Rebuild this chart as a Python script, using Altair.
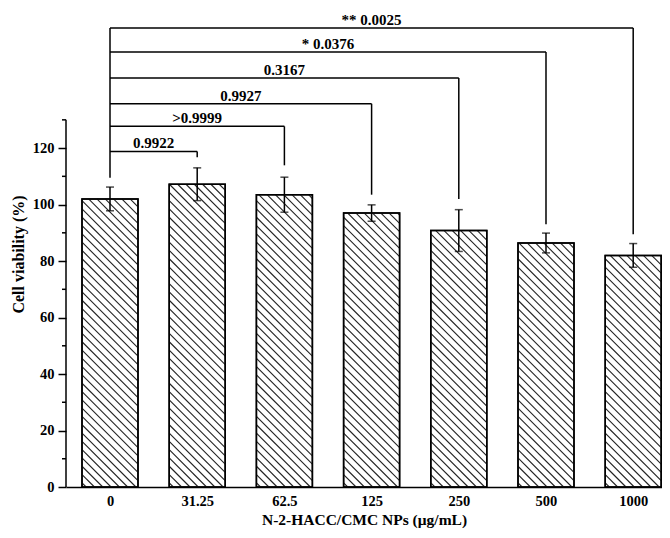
import json
import numpy as np
import pandas as pd
import altair as alt

# ---------------- data ----------------
categories = ["0", "31.25", "62.5", "125", "250", "500", "1000"]
viability = [102.0, 107.2, 103.5, 97.0, 90.8, 86.4, 82.0]
sd = [4.2, 5.8, 6.2, 2.9, 7.4, 3.5, 4.2]

bracket_target = [1, 2, 3, 4, 5, 6]
bracket_height = [118.8, 127.7, 135.7, 144.8, 154.0, 162.5]
bracket_end = [116.8, 113.9, 103.5, 102.0, 93.0, 89.5]
bracket_label = ["0.9922", ">0.9999", "0.9927", "0.3167", "* 0.0376", "** 0.0025"]
bracket_left_bottom = 109.5

y_major = [0, 20, 40, 60, 80, 100, 120]
y_minor = [10, 30, 50, 70, 90, 110, 130]
y_axis_top = 130

# ---------------- layout ----------------
W, H = 596, 466
Y_MAX = 165
X_MIN, X_MAX = -0.5046, 6.3303
SX = W / (X_MAX - X_MIN)      # px per category step
SY = H / Y_MAX                # px per % unit
HALF = 0.321                  # half bar width, in category steps
HATCH = 8.3                   # hatch spacing (px, horizontal)
FONT = "Liberation Serif"

xs = alt.Scale(domain=[X_MIN, X_MAX], nice=False, zero=False)
ys = alt.Scale(domain=[0, Y_MAX], nice=False, zero=False)

bars = pd.DataFrame({
    "i": list(range(len(categories))),
    "v": viability,
    "lo": [v - e for v, e in zip(viability, sd)],
    "hi": [v + e for v, e in zip(viability, sd)],
})
bars["xl"] = bars["i"] - HALF
bars["xr"] = bars["i"] + HALF

# hatch segments ("\" direction) clipped to each bar
rows = []
for i, v in enumerate(viability):
    wp, hp = 2 * HALF * SX, v * SY
    for c in np.arange(HATCH / 2, wp + hp, HATCH):
        u0, u1 = max(0.0, c - hp), min(wp, c)
        rows.append({"x": i - HALF + u0 / SX, "y": (c - u0) / SY,
                     "x2": i - HALF + u1 / SX, "y2": (c - u1) / SY})
hatch = pd.DataFrame(rows)

caps = pd.DataFrame({"i": list(bars["i"]) * 2, "y": list(bars["lo"]) + list(bars["hi"])})

br = pd.DataFrame({
    "x0": [0] * len(bracket_target),
    "t": bracket_target,
    "h": bracket_height,
    "e": bracket_end,
    "label": bracket_label,
})
br["mid"] = br["t"] / 2.0
left_line = pd.DataFrame({"x": [0], "lo": [bracket_left_bottom], "hi": [max(bracket_height)]})
yaxis_line = pd.DataFrame({"lo": [0], "hi": [y_axis_top]})
minor = pd.DataFrame({"v": y_minor})

label_expr = json.dumps(categories) + "[datum.value]"

x_axis = alt.Axis(
    values=list(range(len(categories))), labelExpr=label_expr, ticks=False, tickSize=0,
    grid=False, domainColor="black", domainWidth=1.5,
    labelFont=FONT, labelFontSize=14.5, labelFontWeight="bold", labelColor="black",
    labelPadding=7, title="N-2-HACC/CMC NPs (μg/mL)", titleFont=FONT,
    titleFontSize=15.5, titleFontWeight="bold", titleColor="black", titlePadding=5,
)
y_axis = alt.Axis(
    values=y_major, domain=False, grid=False, tickSize=8, tickWidth=1.5, tickColor="black",
    labelFont=FONT, labelFontSize=14.5, labelFontWeight="bold", labelColor="black",
    labelPadding=4, title="Cell viability (%)", titleFont=FONT, titleFontSize=16,
    titleFontWeight="bold", titleColor="black", titlePadding=6,
)

base_rect = alt.Chart(bars).mark_rect(fill="white", stroke="black", strokeWidth=1.5).encode(
    x=alt.X("xl:Q", scale=xs, axis=x_axis),
    x2="xr:Q",
    y=alt.Y("v:Q", scale=ys, axis=y_axis),
    y2=alt.datum(0),
)

hatch_layer = alt.Chart(hatch).mark_rule(color="#222", strokeWidth=1.1).encode(
    x="x:Q", x2="x2:Q", y="y:Q", y2="y2:Q"
)

outline = alt.Chart(bars).mark_rect(fillOpacity=0, stroke="black", strokeWidth=1.5).encode(
    x="xl:Q", x2="xr:Q", y="v:Q", y2=alt.datum(0)
)

err = alt.Chart(bars).mark_rule(color="black", strokeWidth=1.5).encode(
    x="i:Q", y="lo:Q", y2="hi:Q"
)
cap_layer = alt.Chart(caps).mark_tick(orient="horizontal", size=8, thickness=1.5, color="black").encode(
    x="i:Q", y="y:Q"
)

yline = alt.Chart(yaxis_line).mark_rule(color="black", strokeWidth=1.5).encode(
    x=alt.value(0), y="lo:Q", y2="hi:Q"
)
minor_ticks = alt.Chart(minor).mark_rule(color="black", strokeWidth=1.5).encode(
    x=alt.value(-4), x2=alt.value(0), y="v:Q"
)

br_h = alt.Chart(br).mark_rule(color="black", strokeWidth=1.5).encode(
    x="x0:Q", x2="t:Q", y="h:Q"
)
br_v = alt.Chart(br).mark_rule(color="black", strokeWidth=1.5).encode(
    x="t:Q", y="e:Q", y2="h:Q"
)
br_left = alt.Chart(left_line).mark_rule(color="black", strokeWidth=1.5).encode(
    x="x:Q", y="lo:Q", y2="hi:Q"
)
br_text = alt.Chart(br).mark_text(
    font=FONT, fontSize=15, fontWeight="bold", color="black", baseline="alphabetic", dy=-3
).encode(x="mid:Q", y="h:Q", text="label:N")

chart = alt.layer(
    base_rect, hatch_layer, outline, err, cap_layer, yline, minor_ticks,
    br_h, br_v, br_left, br_text,
).properties(
    width=W, height=H,
    autosize=alt.AutoSizeParams(type="none"),
    padding={"left": 58, "top": 13, "right": 0, "bottom": 43},
).configure(background="white").configure_view(stroke=None)

chart.save("out.html", embed_options={"renderer": "svg", "actions": False})
